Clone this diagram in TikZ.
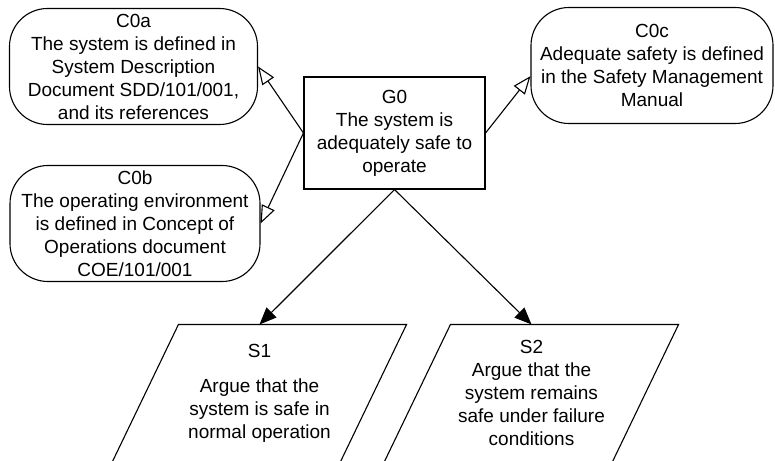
\documentclass[tikz,border=0pt]{standalone}
\usepackage{fontspec}
\setmainfont{Liberation Sans}
\usetikzlibrary{arrows.meta, positioning}

\begin{document}
\begin{tikzpicture}[
  x=1pt, y=-1pt,
  line width=1.1pt,
  every node/.style={align=center, inner sep=0pt, font=\fontsize{19}{23}\selectfont},
  context/.style={draw, rounded corners=38pt, minimum height=116pt},
  goal/.style={draw, rectangle, minimum width=181pt, minimum height=112pt},
  strategy/.style={rectangle, minimum width=227pt, minimum height=136pt},
  incontext/.style={-{Triangle[open, length=18pt, width=14pt]}},
  supported/.style={-{Triangle[length=17pt, width=14pt]}}
]
\path[use as bounding box, clip] (0,0) rectangle (775,460);

\node[goal] (g0) at (394.5,133) {G0\\The system is\\adequately safe to\\operate};
\node[context, minimum width=248pt] (c0a) at (133.5,66.5) {C0a\\The system is defined in\\System Description\\Document SDD/101/001,\\and its references};
\node[context, minimum width=250pt] (c0b) at (135,223.5) {C0b\\The operating environment\\is defined in Concept of\\Operations document\\COE/101/001};
\node[context, minimum width=242pt] (c0c) at (652,65.5) {C0c\\Adequate safety is defined\\in the Safety Management\\Manual};
\node[strategy] (s1) at (259.5,393) {S1\\[12pt]Argue that the\\system is safe in\\normal operation};
\node[strategy] (s2) at (531.5,393) {S2\\Argue that the\\system remains\\safe under failure\\conditions};

% parallelogram outlines of the strategies
\foreach \s in {s1,s2}
  \draw ([xshift=33pt]\s.north west) -- ([xshift=33pt]\s.north east)
    -- ([xshift=-33pt]\s.south east) -- ([xshift=-33pt]\s.south west) -- cycle;

\draw[incontext] (g0.west) -- (c0a.east);
\draw[incontext] (g0.west) -- (c0b.east);
\draw[incontext] (g0.east) -- (c0c.185);
\draw[supported] (g0.south) -- (s1.north);
\draw[supported] (g0.south) -- (s2.north);
\end{tikzpicture}
\end{document}
